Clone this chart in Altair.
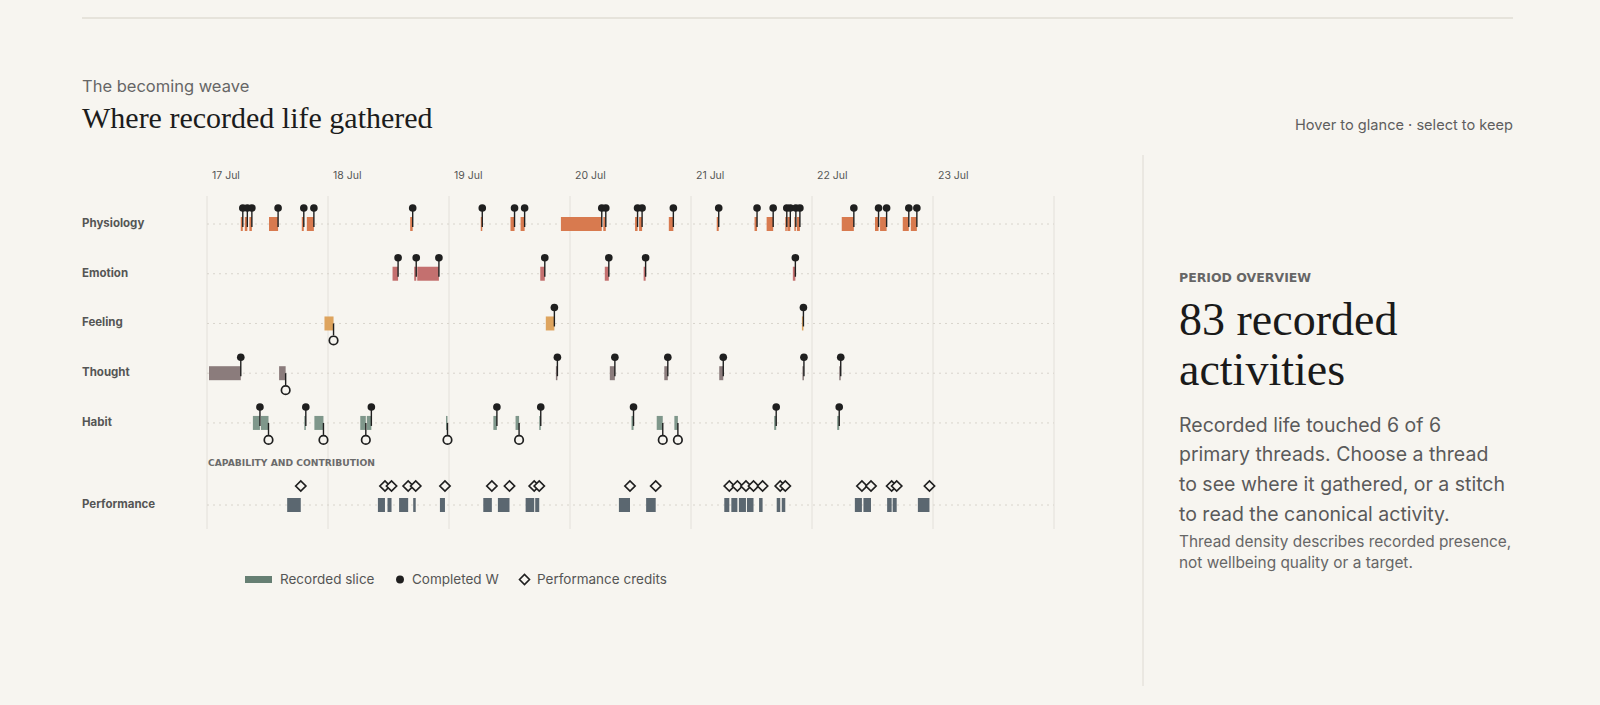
import altair as alt
import pandas as pd

# ---------------- data (hours since 17 Jul 00:00) ----------------
DAY_HOURS = [0, 24, 48, 72, 96, 120, 144, 168]
DAY_LABELS = ["17 Jul", "18 Jul", "19 Jul", "20 Jul", "21 Jul", "22 Jul", "23 Jul"]
THREADS = ["Physiology", "Emotion", "Feeling", "Thought", "Habit", "Performance"]

PHYS_START = [6.7, 7.5, 8.4, 12.3, 18.8, 19.8, 40.3, 54.3, 60.2, 62.2, 70.2, 78.6, 84.9, 85.7,
              91.6, 101.1, 108.6, 111.0, 114.7, 115.1, 116.5, 117.0, 125.9, 132.5, 133.5, 138.0, 139.6]
PHYS_END = [7.1, 8.0, 8.9, 14.1, 19.2, 21.2, 40.8, 54.6, 61.0, 63.0, 78.3, 79.1, 85.4, 86.3,
            92.5, 101.5, 109.1, 112.3, 115.0, 115.7, 116.8, 117.6, 128.3, 133.2, 134.8, 139.2, 140.8]
PHYS_STATUS = ["W"] * 27

EMO_START = [36.8, 41.1, 41.7, 66.1, 78.9, 86.6, 116.2]
EMO_END = [37.9, 41.5, 46.0, 67.0, 79.7, 87.0, 116.7]
EMO_STATUS = ["W"] * 7

FEEL_START = [23.3, 67.2, 118.0]
FEEL_END = [25.1, 68.9, 118.3]
FEEL_STATUS = ["O", "W", "W"]

THOUGHT_START = [0.4, 14.3, 69.2, 79.9, 90.7, 101.6, 118.1, 125.4]
THOUGHT_END = [6.7, 15.6, 69.5, 80.9, 91.4, 102.4, 118.4, 125.7]
THOUGHT_STATUS = ["W", "O", "W", "W", "W", "W", "W", "W"]

HABIT_START = [9.1, 10.7, 19.3, 21.3, 30.4, 31.7, 47.4, 56.8, 61.2, 65.9, 84.2, 89.2, 92.7, 112.5, 125.0]
HABIT_END = [10.5, 12.2, 19.6, 23.1, 31.5, 32.6, 47.7, 57.5, 61.9, 66.2, 84.6, 90.4, 93.4, 112.9, 125.4]
HABIT_STATUS = ["W", "O", "W", "O", "O", "W", "O", "W", "O", "W", "W", "O", "O", "W", "W"]

PERF_START = [15.9, 33.9, 35.8, 38.1, 40.9, 46.2, 54.8, 57.7, 63.2, 65.1, 81.7, 87.1, 102.6, 104.0,
              105.5, 107.1, 109.5, 113.0, 114.0, 128.5, 130.2, 134.9, 136.0, 141.0]
PERF_END = [18.6, 35.3, 36.6, 39.9, 41.4, 47.2, 56.5, 60.0, 64.9, 65.9, 83.9, 89.0, 103.6, 105.2,
            106.9, 108.4, 110.2, 113.7, 114.7, 129.9, 131.7, 135.8, 136.8, 143.3]
PERF_STATUS = ["P"] * 24

# ---------------- layout / style ----------------
LANE = {"Physiology": 0, "Emotion": 1, "Feeling": 2, "Thought": 3, "Habit": 4, "Performance": 5.65}
COLORS = ["#D87A4F", "#C4706F", "#DEA45E", "#8B7C7C", "#7F978B", "#5B6770"]
BG = "#F7F5F0"
INK = "#1f1f1f"
FONT = "Inter"
WIDE = "DejaVu Sans"
SERIF = "Liberation Serif"

rows = []
for th, ss, ee, st in [
    ("Physiology", PHYS_START, PHYS_END, PHYS_STATUS),
    ("Emotion", EMO_START, EMO_END, EMO_STATUS),
    ("Feeling", FEEL_START, FEEL_END, FEEL_STATUS),
    ("Thought", THOUGHT_START, THOUGHT_END, THOUGHT_STATUS),
    ("Habit", HABIT_START, HABIT_END, HABIT_STATUS),
    ("Performance", PERF_START, PERF_END, PERF_STATUS),
]:
    for s, e, k in zip(ss, ee, st):
        rows.append({"thread": th, "start": s, "end": e, "status": k, "lane": LANE[th]})
df = pd.DataFrame(rows)

lanes = pd.DataFrame({"thread": THREADS, "lane": [LANE[t] for t in THREADS],
                      "x0": [DAY_HOURS[0]] * 6, "x1": [DAY_HOURS[-1]] * 6})
days = pd.DataFrame({"h": DAY_HOURS})
day_labels = pd.DataFrame({"h": DAY_HOURS[:7], "label": DAY_LABELS})
one = pd.DataFrame({"k": [0]})

XS = alt.Scale(domain=[0, 168], range=[207, 1054], nice=False, zero=False)
YS = alt.Scale(domain=[0, 5.65], range=[224, 505], nice=False, zero=False)


def xq(f):
    return alt.X(f, type="quantitative", scale=XS, axis=None)


def yq(f):
    return alt.Y(f, type="quantitative", scale=YS, axis=None)


def txt(text, x, y, size, color, font=FONT, weight="normal", align="left", lh=None):
    kw = dict(text=text, fontSize=size, color=color, font=font, fontWeight=weight,
              align=align, baseline="alphabetic")
    if lh:
        kw["lineHeight"] = lh
    return alt.Chart(one).mark_text(**kw).encode(x=alt.value(x), y=alt.value(y))


layers = []

# frame rules
layers.append(alt.Chart(one).mark_rule(color="#E0DCD5", strokeWidth=1.5).encode(
    x=alt.value(82), x2=alt.value(1513), y=alt.value(18)))
layers.append(alt.Chart(one).mark_rule(color="#DEDAD3", strokeWidth=1).encode(
    x=alt.value(1143), y=alt.value(155), y2=alt.value(686)))

# day grid + labels
layers.append(alt.Chart(days).mark_rule(color="#E3E0DA", strokeWidth=1).encode(
    x=xq("h"), y=alt.value(196), y2=alt.value(529)))
layers.append(alt.Chart(day_labels).mark_text(align="left", dx=5, fontSize=10.5, color="#555555",
                                               font=FONT, baseline="alphabetic").encode(
    x=xq("h"), y=alt.value(179), text="label:N"))

# lane baselines + labels
layers.append(alt.Chart(lanes).mark_rule(color="#D8D4CC", strokeWidth=1, strokeDash=[2, 4]).encode(
    x=xq("x0"), x2=alt.X2("x1"), y=yq("lane")))
layers.append(alt.Chart(lanes).mark_text(align="left", baseline="middle", fontSize=11.5,
                                         fontWeight="bold", color="#555555", font=FONT).encode(
    x=alt.value(82), y=yq("lane"), text="thread:N"))

# bars
layers.append(alt.Chart(df).mark_rect(yOffset=-7, y2Offset=7).encode(
    x=xq("start"), x2=alt.X2("end"), y=yq("lane"), y2=alt.Y2("lane"),
    color=alt.Color("thread:N", scale=alt.Scale(domain=THREADS, range=COLORS), legend=None)))

done = df[df.status == "W"]
opened = df[df.status == "O"]
perf = df[df.status == "P"]

layers.append(alt.Chart(done).mark_rule(color=INK, strokeWidth=1.4, yOffset=-16, y2Offset=3).encode(
    x=xq("end"), y=yq("lane"), y2=alt.Y2("lane")))
layers.append(alt.Chart(done).mark_circle(color=INK, size=58, opacity=1, yOffset=-16).encode(
    x=xq("end"), y=yq("lane")))

layers.append(alt.Chart(opened).mark_rule(color=INK, strokeWidth=1.4, yOffset=0, y2Offset=12).encode(
    x=xq("end"), y=yq("lane"), y2=alt.Y2("lane")))
layers.append(alt.Chart(opened).mark_point(shape="circle", filled=True, fill=BG, stroke=INK,
                                           strokeWidth=1.7, size=72, opacity=1, yOffset=17).encode(
    x=xq("end"), y=yq("lane")))

layers.append(alt.Chart(perf).mark_point(shape="diamond", filled=True, fill=BG, stroke=INK,
                                         strokeWidth=1.7, size=105, opacity=1, yOffset=-19).encode(
    x=xq("end"), y=yq("lane")))

# section label
layers.append(txt("CAPABILITY AND CONTRIBUTION", 208, 466, 9.2, "#6b6b6b", font=WIDE, weight="bold"))

# header
layers.append(txt("The becoming weave", 82, 91.5, 16.5, "#666666"))
layers.append(txt("Where recorded life gathered", 82, 128, 30, "#1c1c1c", font=SERIF))
layers.append(txt("Hover to glance · select to keep", 1513, 129.5, 14.6, "#5e5e5e", align="right"))

# right panel
layers.append(txt("PERIOD OVERVIEW", 1179, 281.5, 12.5, "#666666", font=WIDE, weight="bold"))
layers.append(txt(["83 recorded", "activities"], 1179, 335, 46, "#1a1a1a", font=SERIF, lh=50))
layers.append(txt(["Recorded life touched 6 of 6", "primary threads. Choose a thread",
                   "to see where it gathered, or a stitch", "to read the canonical activity."],
                  1179, 431.5, 19.5, "#5a5a5a", lh=29.8))
layers.append(txt(["Thread density describes recorded presence,", "not wellbeing quality or a target."],
                  1179, 546.5, 15.4, "#666666", lh=21.8))

# legend
layers.append(alt.Chart(one).mark_rect(color="#667F73").encode(
    x=alt.value(245), x2=alt.value(272), y=alt.value(576), y2=alt.value(583)))
layers.append(txt("Recorded slice", 280, 583.5, 13.5, "#555555"))
layers.append(alt.Chart(one).mark_circle(color=INK, size=62, opacity=1).encode(
    x=alt.value(400), y=alt.value(579.5)))
layers.append(txt("Completed W", 412, 583.5, 13.5, "#555555"))
layers.append(alt.Chart(one).mark_point(shape="diamond", filled=True, fill=BG, stroke=INK,
                                        strokeWidth=1.6, size=100, opacity=1).encode(
    x=alt.value(524.5), y=alt.value(579.5)))
layers.append(txt("Performance credits", 537, 583.5, 13.5, "#555555"))

chart = alt.layer(*layers).properties(
    width=1600, height=705, padding=0,
    autosize=alt.AutoSizeParams(type="none"),
).configure(background=BG).configure_view(stroke=None)

chart.save("out.html", embed_options={"renderer": "svg", "actions": False})
